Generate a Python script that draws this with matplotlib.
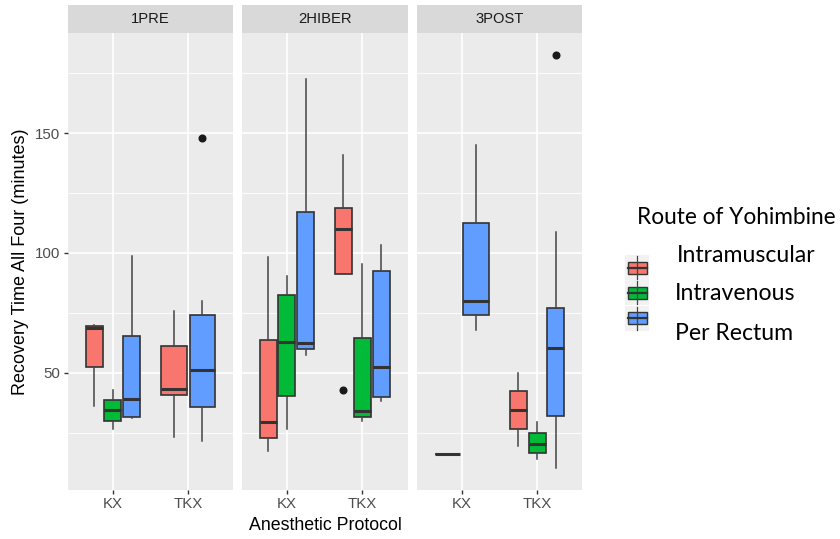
import matplotlib
matplotlib.use("Agg")
import matplotlib.pyplot as plt
from matplotlib.patches import Rectangle
from matplotlib.lines import Line2D

panels = ["1PRE", "2HIBER", "3POST"]
protocols = ["KX", "TKX"]
routes = ["Intramuscular", "Intravenous", "Per Rectum"]
route_colors = ["#F8766D", "#00BA38", "#619CFF"]

# order: panel -> protocol -> route ; None = group absent
whislo = [36.0, 26.3, 30.9, 23.2, None, 21.3,
          17.3, 26.3, 57.5, 91.1, 29.9, 38.1,
          16.0, None, 67.9, 19.2, 14.1, 10.3]
q1 = [52.3, 29.9, 31.3, 40.7, None, 35.6,
      22.9, 40.2, 59.7, 91.1, 31.3, 39.7,
      16.0, None, 74.0, 26.3, 16.6, 32.1]
med = [68.7, 34.5, 38.9, 43.1, None, 51.1,
       29.3, 62.9, 62.5, 109.8, 33.9, 52.2,
       16.0, None, 80.1, 34.2, 20.2, 60.3]
q3 = [69.5, 38.5, 65.1, 61.0, None, 74.0,
      63.6, 82.6, 117.0, 118.7, 64.6, 92.3,
      16.0, None, 112.4, 42.4, 24.9, 76.8]
whishi = [70.1, 42.8, 98.5, 75.8, None, 79.8,
          98.3, 90.4, 172.8, 140.7, 95.3, 103.5,
          16.0, None, 145.1, 50.0, 29.5, 108.8]
fliers = [[], [], [], [], None, [148.0],
          [], [], [], [42.7], [], [],
          [], None, [], [], [], [182.7]]

y_ticks = [50, 100, 150]

W, H = 840, 539
fig = plt.figure(figsize=(W / 100, H / 100), dpi=100)

def px_axes(x0, y0, x1, y1):
    return fig.add_axes([x0 / W, 1 - y1 / H, (x1 - x0) / W, (y1 - y0) / H])

panel_x = [(67.7, 233.3), (241.7, 407.5), (416.7, 582.3)]
top, bottom, strip_top = 33.3, 489.5, 5.2
ylim = (1.2, 191.7)
tick_col = "#4D4D4D"

for p, name in enumerate(panels):
    x0, x1 = panel_x[p]
    ax = px_axes(x0, top, x1, bottom)
    ax.set_facecolor("#EBEBEB")
    for s in ax.spines.values():
        s.set_visible(False)
    ax.set_xlim(0.4, 2.6)
    ax.set_ylim(*ylim)
    ax.set_yticks(y_ticks)
    ax.set_yticks([25, 75, 125, 175], minor=True)
    ax.set_xticks([1, 2])
    ax.set_xticklabels(protocols, fontsize=10.8, color=tick_col, family="Liberation Sans")
    ax.grid(True, which="major", color="white", lw=1.2)
    ax.grid(True, which="minor", axis="y", color="white", lw=0.6)
    ax.set_axisbelow(True)
    ax.tick_params(axis="both", which="major", length=3.2, width=1.0, color="#333333", pad=2.5)
    ax.tick_params(axis="y", which="minor", length=0)
    if p == 0:
        ax.set_yticklabels([str(v) for v in y_ticks], fontsize=10.8, color=tick_col,
                           family="Liberation Sans")
    else:
        ax.tick_params(axis="y", which="major", length=0, labelleft=False)

    for j, prot in enumerate(protocols):
        base = p * 6 + j * 3
        present = [r for r in range(3) if med[base + r] is not None]
        n = len(present)
        slot = 0.75 / n
        for k, r in enumerate(present):
            i = base + r
            pos = (j + 1) - 0.375 + slot * (k + 0.5)
            st = dict(whislo=whislo[i], q1=q1[i], med=med[i], q3=q3[i],
                      whishi=whishi[i], fliers=fliers[i])
            ax.bxp([st], positions=[pos], widths=[slot * 0.9], patch_artist=True,
                   showcaps=False, manage_ticks=False,
                   boxprops=dict(facecolor=route_colors[r], edgecolor="#333333", lw=1.2),
                   whiskerprops=dict(color="#444444", lw=1.1),
                   medianprops=dict(color="#333333", lw=2.2, solid_capstyle="butt"),
                   flierprops=dict(marker="o", markerfacecolor="#1A1A1A",
                                   markeredgecolor="#1A1A1A", markersize=4.8))

    sax = px_axes(x0, strip_top, x1, top)
    sax.set_facecolor("#D9D9D9")
    sax.set_xticks([]); sax.set_yticks([])
    for s in sax.spines.values():
        s.set_visible(False)
    sax.text(0.5, 0.5, name, ha="center", va="center", fontsize=10.6, color="#1A1A1A",
             family="Liberation Sans", transform=sax.transAxes)

fig.text(21 / W, 1 - 262 / H, "Recovery Time All Four (minutes)", rotation=90,
         ha="center", va="center", fontsize=13, family="Liberation Sans", color="black")
fig.text(325 / W, 1 - 526 / H, "Anesthetic Protocol", ha="center", va="center",
         fontsize=12.8, family="Liberation Sans", color="black")

# legend (drawn in an overlay in pixel units)
lax = fig.add_axes([0, 0, 1, 1])
lax.set_xlim(0, W); lax.set_ylim(H, 0); lax.axis("off")
lax.text(636.7, 218, "Route of Yohimbine", ha="left", va="center", fontsize=16.3,
         family="Lato", color="black")
label_pos = [(677, 256), (675, 293.3), (675, 334)]
key_y = [255, 280, 305.5]
for r, lab in enumerate(routes):
    ky = key_y[r]
    lax.add_patch(Rectangle((625, ky), 24, 25, facecolor="#F2F2F2", edgecolor="none"))
    cx, cy = 637, ky + 12.5
    lax.add_line(Line2D([cx, cx], [ky + 1, ky + 24], color="#444444", lw=0.9))
    lax.add_patch(Rectangle((627.5, cy - 6), 19, 12, facecolor=route_colors[r],
                            edgecolor="#333333", lw=1.0))
    lax.add_line(Line2D([627.5, 646.5], [cy, cy], color="#333333", lw=1.6))
    lax.text(label_pos[r][0], label_pos[r][1], lab, ha="left", va="center", fontsize=16.6,
             family="Lato", color="black")

fig.savefig("out.png", dpi=100)
